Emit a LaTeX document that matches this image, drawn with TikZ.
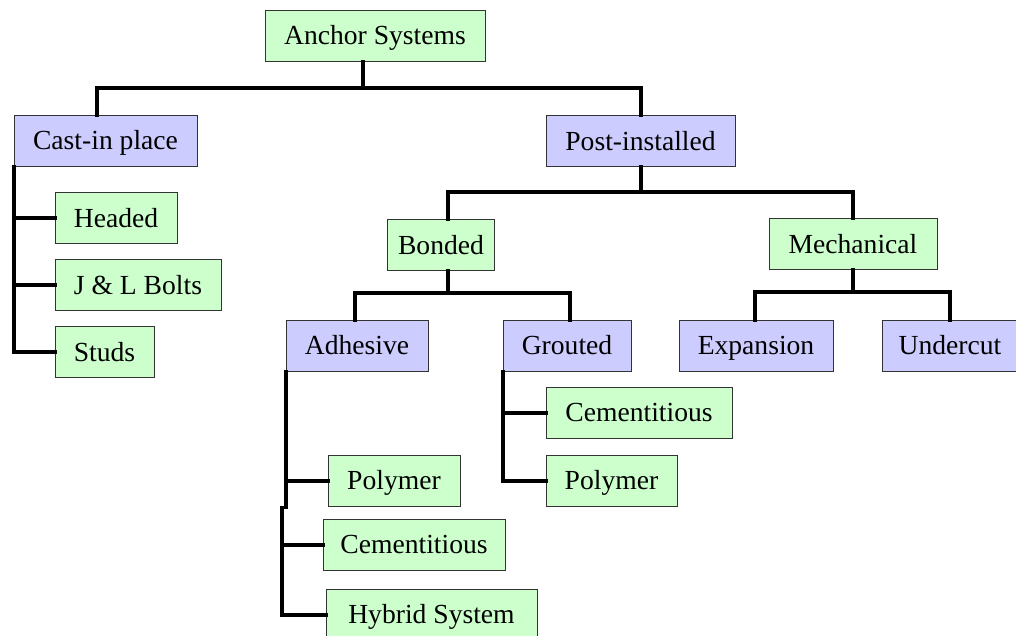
\documentclass[tikz,border=0pt]{standalone}
\usepackage{fontspec}
\setmainfont{Liberation Serif}
\usetikzlibrary{calc}
\definecolor{leafgreen}{RGB}{204,255,204}
\definecolor{groupblue}{RGB}{204,204,255}
\tikzset{
  box/.style={draw=black!80,line width=0.75pt,inner sep=0pt,minimum height=38.25pt,
    text height=16pt,text depth=2.5pt,font=\fontsize{20.7}{24}\selectfont},
  leaf/.style={box,fill=leafgreen},
  group/.style={box,fill=groupblue},
  link/.style={line width=3pt,line cap=rect}
}
\begin{document}
\begin{tikzpicture}[x=0.75pt,y=0.75pt,yscale=-1,xscale=1]
\useasboundingbox (0,0) rectangle (1016,635);

% Root
\node[leaf,minimum width=165pt] (anchor) at (375,36) {Anchor Systems};
% First level
\node[group,minimum width=137.25pt] (cast) at (105.5,140.5) {Cast-in place};
\node[group,minimum width=141.75pt] (post) at (640.5,141) {Post-installed};
% Cast-in place leaves
\node[leaf,minimum width=91.5pt] (headed) at (116,218) {Headed};
\node[leaf,minimum width=124.5pt] (bolts) at (138,285) {J \& L Bolts};
\node[leaf,minimum width=74.25pt] (studs) at (104.5,352) {Studs};
% Post-installed groups
\node[leaf,minimum width=80.25pt] (bonded) at (441,245) {Bonded};
\node[leaf,minimum width=126pt] (mech) at (853,244) {Mechanical};
\node[group,minimum width=106.5pt] (adhesive) at (357,345.5) {Adhesive};
\node[group,minimum width=96pt] (grouted) at (567,345.5) {Grouted};
\node[group,minimum width=115.5pt] (expansion) at (756,345.5) {Expansion};
\node[group,minimum width=102pt] (undercut) at (950,345.5) {Undercut};
% Grouted leaves
\node[leaf,minimum width=139.5pt] (gcem) at (639,412.5) {Cementitious};
\node[leaf,minimum width=98.25pt] (gpoly) at (611.5,480.5) {Polymer};
% Adhesive leaves
\node[leaf,minimum width=99pt] (apoly) at (394,480.5) {Polymer};
\node[leaf,minimum width=136.5pt] (acem) at (414,544.5) {Cementitious};
\node[leaf,minimum width=158.25pt] (hybrid) at (431.5,614.5) {Hybrid System};

% Root connectors
\draw[link] ($(anchor.south)+(-12,0)$) -- ++(0,26) -| ($(cast.north)+(-8.5,0)$);
\draw[link] ($(anchor.south)+(-12,0)$) -- ++(0,26) -| (post.north);
% Cast-in place connectors
\draw[link] (cast.south west) |- (studs.west);
\draw[link] (cast.south west |- headed.west) -- (headed.west);
\draw[link] (cast.south west |- bolts.west) -- (bolts.west);
% Post-installed connectors
\draw[link] (post.south) -- ++(0,25) -| ($(bonded.north)+(7,0)$);
\draw[link] (post.south) -- ++(0,25) -| (mech.north);
% Bonded connectors
\draw[link] ($(bonded.south)+(7,0)$) -- ++(0,22) -| ($(adhesive.north)+(-2,0)$);
\draw[link] ($(bonded.south)+(7,0)$) -- ++(0,22) -| ($(grouted.north)+(3,0)$);
% Mechanical connectors
\draw[link] (mech.south) -- ++(0,22) -| ($(expansion.north)+(-1,0)$);
\draw[link] (mech.south) -- ++(0,22) -| (undercut.north);
% Grouted connectors
\draw[link] (grouted.south west) |- (gpoly.west);
\draw[link] (grouted.south west |- gcem.west) -- (gcem.west);
% Adhesive connectors
\draw[link] (adhesive.south west) -- (adhesive.south west |- apoly.south);
\draw[link] (adhesive.south west |- apoly.west) -- (apoly.west);
\draw[link] ($(adhesive.south west |- apoly.south)+(-4,1)$) |- (hybrid.west);
\draw[link] ($(adhesive.south west |- acem.west)+(-4,0)$) -- (acem.west);

\end{tikzpicture}
\end{document}
